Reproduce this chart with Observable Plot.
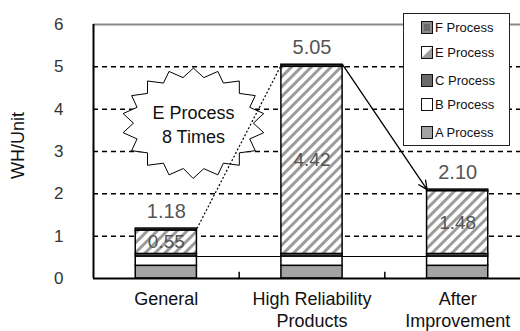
<!DOCTYPE html>
<html>
<head>
<meta charset="utf-8">
<script src="https://cdn.jsdelivr.net/npm/d3@7"></script>
<script src="https://cdn.jsdelivr.net/npm/@observablehq/plot@0.6"></script>
<style>
  body { margin: 0; background: white; }
  #wrap { position: relative; width: 520px; height: 331px; overflow: hidden; font-family: "Liberation Sans", Arial, sans-serif; }
  #legend { position: absolute; left: 403px; top: 13px; width: 107px; height: 133px; border: 1.5px solid #222; background: white; box-sizing: border-box; }
  .item { position: absolute; left: 17px; font-size: 13px; color: #111; display: flex; align-items: center; height: 16px; }
  .sw { width: 12px; height: 13px; border: 1.5px solid #111; margin-right: 2px; box-sizing: border-box; }
</style>
</head>
<body>
<div id="wrap"></div>
<script>
// ---- data ----
const categories = ["General", "High Reliability\nProducts", "After\nImprovement"];
const processes = ["A Process", "B Process", "C Process", "E Process", "F Process"];
const aValues = [0.30, 0.30, 0.30];
const bValues = [0.22, 0.22, 0.22];
const cValues = [0.06, 0.06, 0.06];
const eValues = [0.55, 4.42, 1.48];
const fValues = [0.05, 0.05, 0.04];
const totals = [1.18, 5.05, 2.10];
const yTicks = [0, 1, 2, 3, 4, 5, 6];
const gridValues = [1, 2, 3, 4, 5];
const legendOrder = ["F Process", "E Process", "C Process", "B Process", "A Process"];
const calloutLines = ["E Process", "8 Times"];
const yLabel = "WH/Unit";

// ---- build stacked rows ----
const series = [aValues, bValues, cValues, eValues, fValues];
const rows = [];
categories.forEach((c, i) => {
  let acc = 0;
  series.forEach((s, k) => {
    rows.push({i, process: processes[k], y1: acc, y2: acc + s[i], v: s[i]});
    acc += s[i];
  });
});
const half = 0.21;
const byProc = p => rows.filter(r => r.process === p);

// starburst callout shape (decoration)
const star = [];
const cx = 0.186, cy = 3.67, rx = 0.49, ry = 1.30, spikes = 18;
for (let k = 0; k < spikes * 2; k++) {
  const a = Math.PI * k / spikes - Math.PI / 2;
  const r = k % 2 === 0 ? 1 : 0.84;
  star.push({x: cx + rx * r * Math.cos(a), y: cy + ry * r * Math.sin(a)});
}

const HATCH_KEY = "#fefefd";
const procFill = {"A Process": "#a3a3a3", "B Process": "white", "C Process": "#6a6a6a", "F Process": "#6a6a6a"};

const chart = Plot.plot({
  width: 520,
  height: 331,
  marginTop: 24,
  marginBottom: 53,
  marginLeft: 93,
  marginRight: 0,
  x: {domain: [-0.5, 2.5], range: [93, 530]},
  y: {domain: [0, 6]},
  style: {fontFamily: "Liberation Sans, Arial, sans-serif", background: "white"},
  marks: [
    Plot.ruleY(gridValues, {stroke: "black", strokeWidth: 1.5, strokeDasharray: "5,4"}),
    Plot.ruleY([6], {stroke: "#8a8a8a", strokeWidth: 2}),
    Plot.line(star, {x: "x", y: "y", curve: "linear-closed", fill: "white", stroke: "black", strokeWidth: 1}),
    Plot.text([calloutLines.join("\n")], {x: cx, y: cy, text: d => d, fontSize: 18, fill: "#111", lineHeight: 1.35}),
    Plot.ruleY([aValues[0] + bValues[0]], {x1: half, x2: 2 - half, stroke: "black", strokeWidth: 1.2}),
    ...["A Process", "B Process", "C Process", "F Process"].map(p =>
      Plot.rect(byProc(p), {x1: d => d.i - half, x2: d => d.i + half, y1: "y1", y2: "y2", fill: procFill[p], stroke: "black", strokeWidth: 1.5})
    ),
    Plot.rect(byProc("E Process"), {x1: d => d.i - half, x2: d => d.i + half, y1: "y1", y2: "y2", fill: HATCH_KEY, stroke: "black", strokeWidth: 1.5}),
    Plot.text(byProc("E Process"), {x: "i", y: d => (d.y1 + d.y2) / 2, text: d => d.v.toFixed(2), fontSize: 19, fill: "#555"}),
    Plot.text(totals, {x: (d, i) => i, y: d => d, text: d => d.toFixed(2), dy: -17, fontSize: 20, fill: "#555"}),
    Plot.link([0], {x1: half, y1: totals[0], x2: 1 - half, y2: totals[1], stroke: "black", strokeWidth: 1.2, strokeDasharray: "2,2"}),
    Plot.arrow([0], {x1: 1 + half, y1: totals[1], x2: 2 - half, y2: totals[2], stroke: "black", strokeWidth: 1.3, headLength: 11, headAngle: 50}),
    Plot.ruleX([-0.5], {stroke: "black", strokeWidth: 2}),
    Plot.ruleY([0], {stroke: "black", strokeWidth: 2}),
    Plot.ruleX([0.5, 1.5], {y1: 0, y2: 0.15, stroke: "black", strokeWidth: 1.5}),
    Plot.axisY({ticks: yTicks, tickFormat: d => String(d), tickSize: 0, tickPadding: 30, fontSize: 17, fill: "#333", label: null}),
    Plot.axisX({ticks: [0, 1, 2], tickFormat: i => categories[i], tickSize: 0, tickPadding: 12, fontSize: 18, fill: "#111", label: null, lineHeight: 1.17}),
    Plot.text([yLabel], {frameAnchor: "left", textAnchor: "middle", dx: -75, dy: -6, rotate: -90, fontSize: 18, fill: "#111"})
  ]
});

// hatch pattern for E Process
const ns = "http://www.w3.org/2000/svg";
const defs = document.createElementNS(ns, "defs");
defs.innerHTML = '<pattern id="hatch" width="7" height="7" patternUnits="userSpaceOnUse" patternTransform="rotate(45)"><rect width="7" height="7" fill="white"/><line x1="1.5" y1="0" x2="1.5" y2="7" stroke="#9c9c9c" stroke-width="3"/></pattern>';
chart.insertBefore(defs, chart.firstChild);
chart.querySelectorAll("[fill]").forEach(el => {
  if (el.getAttribute("fill").toLowerCase() === HATCH_KEY) el.setAttribute("fill", "url(#hatch)");
});

const wrap = document.getElementById("wrap");
wrap.appendChild(chart);

// legend
const swatchStyle = {
  "F Process": "background:#6a6a6a; box-shadow: inset 0 0 0 2px #8a8a8a;",
  "E Process": "background: linear-gradient(135deg, white 45%, #9c9c9c 55%);",
  "C Process": "background:#6a6a6a;",
  "B Process": "background:white;",
  "A Process": "background:#a3a3a3;"
};
const legendTops = [5, 30, 58, 82, 110];
const legend = document.createElement("div");
legend.id = "legend";
legendOrder.forEach((p, k) => {
  const it = document.createElement("div");
  it.className = "item";
  it.style.top = legendTops[k] + "px";
  it.innerHTML = `<span class="sw" style="${swatchStyle[p]}"></span><span>${p}</span>`;
  legend.appendChild(it);
});
wrap.appendChild(legend);
</script>
</body>
</html>
